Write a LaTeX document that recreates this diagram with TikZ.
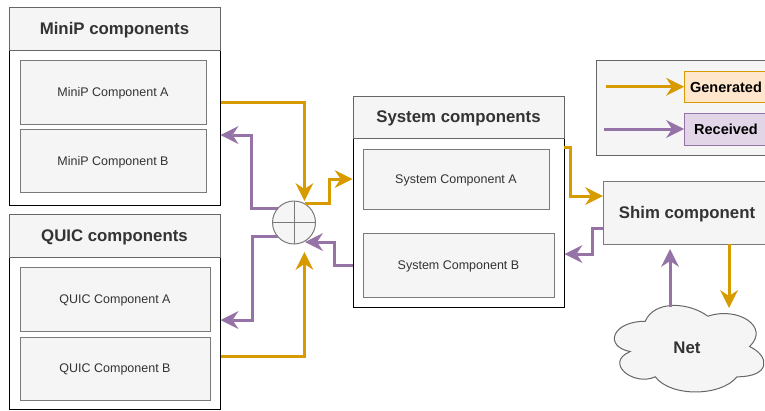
\documentclass[tikz,border=0pt]{standalone}
\usepackage{fontspec}
\setmainfont{Liberation Sans}
\usetikzlibrary{arrows.meta}
\definecolor{genc}{HTML}{D79B00}
\definecolor{recc}{HTML}{9673A6}
\definecolor{gfill}{HTML}{F5F5F5}
\definecolor{gline}{HTML}{666666}
\definecolor{cline}{HTML}{7A7A7A}
\definecolor{txt}{HTML}{333333}
\definecolor{genfill}{HTML}{FFE6CC}
\definecolor{recfill}{HTML}{E1D5E7}
\tikzset{
  hdr/.style={draw=gline, fill=gfill, line width=1pt, inner sep=0pt, outer sep=0pt, minimum width=211pt, text=txt, text depth=0pt, font=\fontsize{16.8}{20}\selectfont\bfseries},
  bodybox/.style={draw=black, fill=white, line width=1pt, inner sep=0pt, outer sep=0pt, minimum width=211pt},
  comp/.style={draw=cline, fill=gfill, line width=1pt, inner sep=0pt, outer sep=0pt, text=txt, text depth=0pt, font=\fontsize{12.5}{15}\selectfont},
  genline/.style={draw=genc, line width=3pt, -{Stealth[length=18pt,width=18pt,inset=6pt,line width=0pt]}},
  recline/.style={draw=recc, line width=3pt, -{Stealth[length=18pt,width=18pt,inset=6pt,line width=0pt]}},
  lgbox/.style={line width=1pt, inner sep=0pt, outer sep=0pt, minimum width=84pt, text depth=0pt, font=\fontsize{14.5}{17}\selectfont\bfseries},
}
\begin{document}
\begin{tikzpicture}[x=1pt,y=-1pt]
\useasboundingbox (0,0) rectangle (765,410);
\clip (0,0) rectangle (765,410);

% MiniP container
\node[bodybox, minimum height=155pt] (minip) at (114.5,127.5) {};
\node[hdr, minimum height=43pt] (miniphead) at (114.5,28.5) {MiniP components};
\node[comp, minimum width=186pt, minimum height=64pt] (minipA) at (113,92) {MiniP Component A};
\node[comp, minimum width=186pt, minimum height=63pt] (minipB) at (113,160.5) {MiniP Component B};

% QUIC container
\node[bodybox, minimum height=152pt] (quic) at (114.5,333) {};
\node[hdr, minimum height=43pt] (quichead) at (114.5,235.5) {QUIC components};
\node[comp, minimum width=190pt, minimum height=64pt] (quicA) at (115,299) {QUIC Component A};
\node[comp, minimum width=190pt, minimum height=63pt] (quicB) at (115,368.5) {QUIC Component B};

% System container
\node[bodybox, minimum height=169pt] (sys) at (458.5,222.5) {};
\node[hdr, minimum height=42pt] (syshead) at (458.5,117) {System components};
\node[comp, minimum width=186pt, minimum height=60pt] (sysA) at (456,179) {System Component A};
\node[comp, minimum width=191pt, minimum height=64pt] (sysB) at (458.5,265) {System Component B};

% Legend
\node[draw=gline, fill=gfill, line width=1pt, minimum width=180pt, minimum height=95pt, inner sep=0pt, outer sep=0pt] (legend) at (686,107.5) {};
\node[lgbox, draw=genc, fill=genfill, minimum height=31.5pt] (gen) at (726,86.75) {Generated};
\node[lgbox, draw=recc, fill=recfill, minimum height=32pt] (rec) at (726,129) {Received};

% Shim
\node[draw=cline, fill=gfill, line width=1pt, minimum width=168pt, minimum height=63pt, inner sep=0pt, outer sep=0pt, text=txt, text depth=0pt, font=\fontsize{16.8}{20}\selectfont\bfseries] (shim) at (687,212.5) {Shim component};

% Net cloud
\draw[draw=gline, fill=gfill, line width=1pt]
  (645.25,321.25) .. controls (611.85,321.25) and (603.5,346.5) .. (630.22,351.55)
  .. controls (603.5,362.66) and (633.56,386.9) .. (655.27,376.8)
  .. controls (670.3,397) and (720.4,397) .. (737.1,376.8)
  .. controls (770.5,376.8) and (770.5,356.6) .. (749.625,346.5)
  .. controls (770.5,326.3) and (737.1,306.1) .. (707.875,316.2)
  .. controls (687,301.05) and (653.6,301.05) .. (645.25,321.25) -- cycle;
\node[text=txt, font=\fontsize{16.8}{20}\selectfont\bfseries] (net) at (687,348) {Net};

% Sum junction
\node[draw=cline, fill=gfill, line width=1pt, circle, minimum size=43pt, inner sep=0pt, outer sep=0pt] (sum) at (294,222.5) {};
\draw[draw=cline, line width=1pt] (sum.north) -- (sum.south) (sum.west) -- (sum.east);

% connector end points
\coordinate (maOut) at (220.5,102);
\coordinate (mbIn) at (220.5,135);
\coordinate (qaIn) at (220.5,320);
\coordinate (qbOut) at (220.5,356);
\coordinate (sumTop) at (304.4,201);
\coordinate (sumBot) at (304.4,252);
\coordinate (sumIn) at (305,242);
\coordinate (sysAin) at (352.5,179);
\coordinate (sysBout) at (353,265);
\coordinate (sysAout) at (564,147);
\coordinate (sysBin) at (564.5,254);
\coordinate (shimIn) at (603,196);
\coordinate (shimOut) at (603,228);
\coordinate (shimUp) at (670,249);
\coordinate (shimDown) at (729,244);
\coordinate (netTop) at (670,307);
\coordinate (netIn) at (729,308);
\coordinate (lg1) at (606,86.75);
\coordinate (lg2) at (604,129);

% connectors
\draw[genline] (maOut) -| (sumTop);
\draw[recline] (sum.138) -| (251,135) -- (mbIn);
\draw[recline] (sum.222) -| (252,320) -- (qaIn);
\draw[genline] (qbOut) -| (sumBot);
\draw[genline] (sum.60) -| (329,179) -- (sysAin);
\draw[recline] (sysBout) -| (334,242) -- (sumIn);
\draw[genline] (sysAout) -| (570,196) -- (shimIn);
\draw[recline] (shimOut) -| (592,254) -- (sysBin);
\draw[recline] (netTop) -- (shimUp);
\draw[genline] (shimDown) -- (netIn);
\draw[genline] (lg1) -- (gen.west);
\draw[recline] (lg2) -- (rec.west);
\end{tikzpicture}
\end{document}
